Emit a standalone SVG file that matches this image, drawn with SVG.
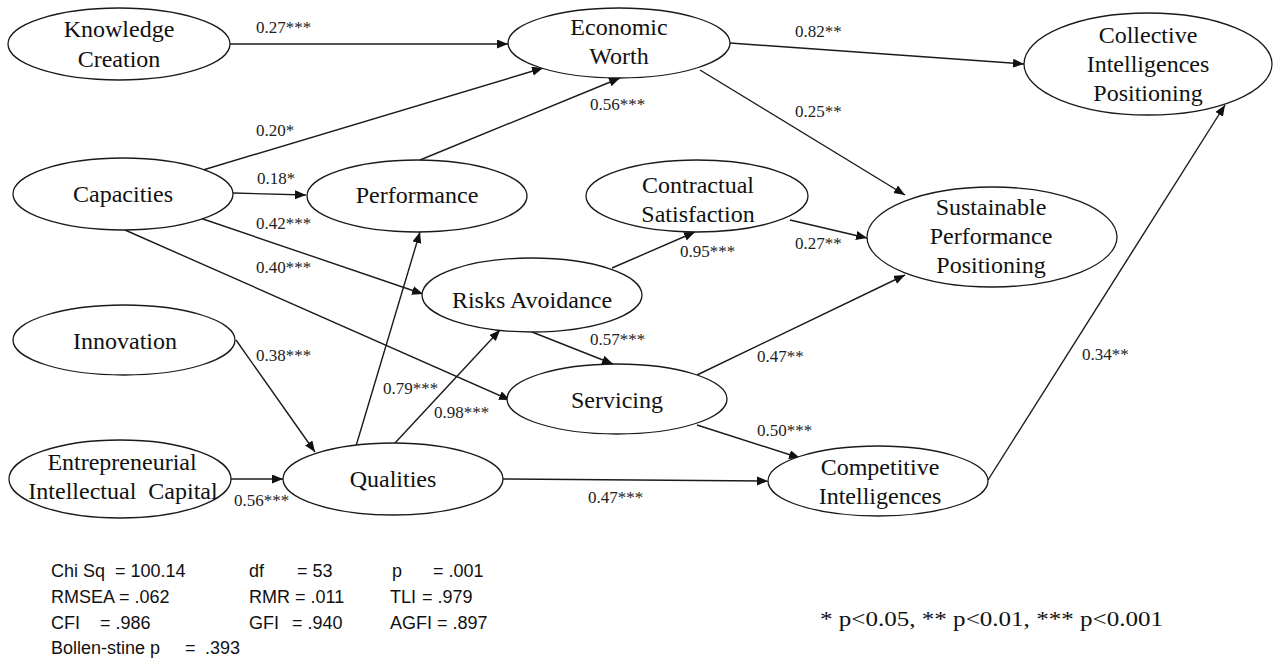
<svg xmlns="http://www.w3.org/2000/svg" width="1274" height="660" viewBox="0 0 1274 660">
<style>
.n ellipse{fill:#fff;stroke:#1a1a1a;stroke-width:1.3}
.n text{font-family:"Liberation Serif","Times New Roman",serif;font-size:24px;fill:#111;text-anchor:middle}
.c line{stroke:#1a1a1a;stroke-width:1.4;marker-end:url(#ah)}
.lb{font-family:"Liberation Serif","Times New Roman",serif;font-size:17px;fill:#222}
.st{font-family:"Liberation Sans",Arial,sans-serif;font-size:18px;fill:#111}
.lg{font-family:"Liberation Serif","Times New Roman",serif;font-size:21px;fill:#111}
</style>
<defs>
<marker id="ah" markerUnits="userSpaceOnUse" markerWidth="12" markerHeight="10" refX="11" refY="4.5" orient="auto">
<path d="M0,0 L11,4.5 L0,9 z" fill="#111"/>
</marker>
</defs>
<rect width="1274" height="660" fill="#fff"/>
<g class="c" id="connectors">
<line x1="230" y1="44" x2="508" y2="44"/>
<line x1="203" y1="170" x2="543" y2="68"/>
<line x1="233" y1="193" x2="306" y2="195"/>
<line x1="200" y1="218" x2="423" y2="294"/>
<line x1="125" y1="230" x2="510" y2="400"/>
<line x1="420" y1="160" x2="620" y2="78"/>
<line x1="730" y1="43" x2="1024" y2="64"/>
<line x1="700" y1="70" x2="905" y2="195"/>
<line x1="790" y1="220" x2="867" y2="238"/>
<line x1="612" y1="268" x2="695" y2="232"/>
<line x1="532" y1="332" x2="613" y2="364"/>
<line x1="697" y1="375" x2="905" y2="275"/>
<line x1="697" y1="425" x2="800" y2="458"/>
<line x1="503" y1="479" x2="768" y2="481"/>
<line x1="988" y1="480" x2="1225" y2="105"/>
<line x1="236" y1="340" x2="315" y2="452"/>
<line x1="230" y1="479" x2="283" y2="479"/>
<line x1="356" y1="446" x2="420" y2="232"/>
<line x1="395" y1="443" x2="500" y2="330"/>
</g>
<g id="labels">
<text class="lb" x="256" y="33">0.27***</text>
<text class="lb" x="256" y="136">0.20*</text>
<text class="lb" x="257" y="184">0.18*</text>
<text class="lb" x="256" y="229">0.42***</text>
<text class="lb" x="256" y="273">0.40***</text>
<text class="lb" x="590" y="110">0.56***</text>
<text class="lb" x="795" y="37">0.82**</text>
<text class="lb" x="795" y="117">0.25**</text>
<text class="lb" x="795" y="249">0.27**</text>
<text class="lb" x="680" y="257">0.95***</text>
<text class="lb" x="590" y="345">0.57***</text>
<text class="lb" x="757" y="362">0.47**</text>
<text class="lb" x="757" y="436">0.50***</text>
<text class="lb" x="588" y="503">0.47***</text>
<text class="lb" x="1082" y="360">0.34**</text>
<text class="lb" x="256" y="361">0.38***</text>
<text class="lb" x="234" y="506">0.56***</text>
<text class="lb" x="383" y="394">0.79***</text>
<text class="lb" x="434" y="418">0.98***</text>
</g>
<g class="n" id="knowledge-creation"><ellipse cx="119" cy="44" rx="111" ry="36"/><text x="119" y="37">Knowledge</text><text x="119" y="67">Creation</text></g>
<g class="n" id="economic-worth"><ellipse cx="619" cy="43" rx="111" ry="35"/><text x="619" y="35">Economic</text><text x="619" y="64">Worth</text></g>
<g class="n" id="collective-intelligences-positioning"><ellipse cx="1148" cy="64" rx="124" ry="51"/><text x="1148" y="43">Collective</text><text x="1148" y="72">Intelligences</text><text x="1148" y="101">Positioning</text></g>
<g class="n" id="capacities"><ellipse cx="123" cy="194" rx="110" ry="36"/><text x="123" y="202">Capacities</text></g>
<g class="n" id="performance"><ellipse cx="417" cy="196" rx="110" ry="36"/><text x="417" y="203">Performance</text></g>
<g class="n" id="contractual-satisfaction"><ellipse cx="697" cy="196" rx="111" ry="36"/><text x="698" y="193">Contractual</text><text x="698" y="222">Satisfaction</text></g>
<g class="n" id="sustainable-performance-positioning"><ellipse cx="992" cy="237" rx="125" ry="50"/><text x="991" y="215">Sustainable</text><text x="991" y="244">Performance</text><text x="991" y="273">Positioning</text></g>
<g class="n" id="risks-avoidance"><ellipse cx="532" cy="295" rx="110" ry="37"/><text x="532" y="308">Risks Avoidance</text></g>
<g class="n" id="innovation"><ellipse cx="124" cy="340" rx="111" ry="35"/><text x="125" y="349">Innovation</text></g>
<g class="n" id="servicing"><ellipse cx="617" cy="399" rx="110" ry="35"/><text x="617" y="408">Servicing</text></g>
<g class="n" id="entrepreneurial-intellectual-capital"><ellipse cx="120" cy="479" rx="111" ry="39"/><text x="122" y="470">Entrepreneurial</text><text x="123" y="499" style="white-space:pre">Intellectual  Capital</text></g>
<g class="n" id="qualities"><ellipse cx="393" cy="479" rx="110" ry="36"/><text x="393" y="487">Qualities</text></g>
<g class="n" id="competitive-intelligences"><ellipse cx="878" cy="481" rx="110" ry="35"/><text x="880" y="475">Competitive</text><text x="880" y="504">Intelligences</text></g>
<g id="stats">
<text class="st" x="51" y="577">Chi Sq</text><text class="st" x="115" y="577">= 100.14</text>
<text class="st" x="249" y="577">df</text><text class="st" x="297" y="577">= 53</text>
<text class="st" x="392" y="577">p</text><text class="st" x="433" y="577">= .001</text>
<text class="st" x="51" y="603">RMSEA = .062</text>
<text class="st" x="249" y="603">RMR = .011</text>
<text class="st" x="390" y="603">TLI</text><text class="st" x="422" y="603">= .979</text>
<text class="st" x="51" y="629">CFI</text><text class="st" x="100" y="629">= .986</text>
<text class="st" x="249" y="629">GFI</text><text class="st" x="292" y="629">= .940</text>
<text class="st" x="390" y="629">AGFI = .897</text>
<text class="st" x="51" y="654">Bollen-stine p</text><text class="st" x="185" y="654">=</text><text class="st" x="205" y="654">.393</text>
</g>
<text class="lg" x="820" y="626" textLength="343" lengthAdjust="spacingAndGlyphs">* p&lt;0.05, ** p&lt;0.01, *** p&lt;0.001</text>
</svg>
